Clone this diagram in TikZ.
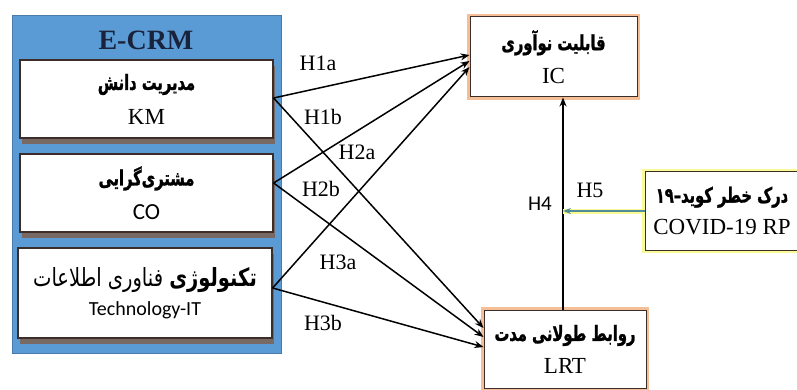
\documentclass[tikz,border=0pt]{standalone}
\usepackage{fontspec}
\setmainfont{Liberation Serif}
\newfontfamily\fa[Script=Arabic, FakeStretch=0.78]{DejaVu Sans}
\newfontfamily\fab[Script=Arabic, FakeStretch=0.70, FakeBold=1.2]{DejaVu Sans Bold}
\newfontfamily\calfont{Carlito}
\TeXXeTstate=1
\usetikzlibrary{arrows.meta,shadows}
\definecolor{ecrmblue}{RGB}{91,155,213}
\definecolor{navy}{RGB}{25,35,60}
\definecolor{shadowbrown}{RGB}{120,105,100}
\definecolor{boxline}{RGB}{60,45,40}
\definecolor{orangeglow}{RGB}{244,190,150}
\definecolor{yellowglow}{RGB}{250,250,150}
\definecolor{tealarrow}{RGB}{80,140,150}
\tikzset{
  crmbox/.style={draw=boxline, line width=1.2pt, fill=white, align=center,
    drop shadow={shadow xshift=2pt, shadow yshift=-6pt, fill=shadowbrown, opacity=1},
    inner sep=0pt},
  outbox/.style={draw=boxline, line width=1pt, fill=white, align=center, inner sep=0pt,
    preaction={draw=orangeglow, line width=6pt}},
  covbox/.style={draw=boxline, line width=1pt, fill=white, align=center, inner sep=0pt,
    preaction={draw=yellowglow, line width=6pt}},
  harrow/.style={-{Stealth[length=9pt,width=7pt]}, line width=1.5pt, black},
  hlabel/.style={font=\fontsize{22}{24}\selectfont, inner sep=1pt}
}
\newcommand{\fatitle}[1]{{\fab\fontsize{21}{24}\selectfont\beginR #1\endR}}
\newcommand{\entitle}[1]{{\fontsize{23}{26}\selectfont #1}}
\begin{document}
\begin{tikzpicture}[x=1pt,y=-1pt]
\useasboundingbox (0,0) rectangle (797,390);
% E-CRM container
\node[fill=ecrmblue, draw=ecrmblue!80!black, line width=0.6pt, minimum width=269pt, minimum height=338pt, inner sep=0pt] (ecrm) at (146.5,184) {};
\node[font=\fontsize{28}{30}\selectfont\bfseries, text=navy] (ecrmt) at (146,40) {E-CRM};
% left boxes
\node[crmbox, minimum width=253pt, minimum height=78pt] (KM) at (146.5,99)
  {\fatitle{مدیریت دانش}\\[13pt]\entitle{KM}};
\node[crmbox, minimum width=253pt, minimum height=78pt] (CO) at (146.5,193)
  {\fatitle{مشتری‌گرایی}\\[13pt]{\calfont\fontsize{23}{26}\selectfont CO}};
\node[crmbox, minimum width=254pt, minimum height=90pt] (IT) at (145,293)
  {{\fa\fontsize{25}{30}\selectfont\beginR{\bfseries تکنولوژی} فناوری اطلاعات\endR}\\[8pt]{\calfont\fontsize{20}{22}\selectfont Technology-IT}};
% right boxes
\node[outbox, minimum width=167pt, minimum height=80pt] (IC) at (553.5,57)
  {\fatitle{قابلیت نوآوری}\\[12pt]\entitle{IC}};
\node[outbox, minimum width=162pt, minimum height=78pt] (LRT) at (565,349)
  {\fatitle{روابط طولانی مدت}\\[11pt]\entitle{LRT}};
\node[covbox, minimum width=154pt, minimum height=78pt] (COV) at (722,211)
  {\fatitle{درک خطر کوید–\beginL ۱۹\endL}\\[11pt]\entitle{COVID-19 RP}};
% connectors
\draw[harrow] ([yshift=1pt]KM.east) -- ([yshift=2pt]IC.west);
\draw[harrow] ([yshift=10pt]CO.east) -- ([yshift=-4pt]IC.west);
\draw[harrow] ([yshift=5pt]IT.east) -- ([yshift=-10pt]IC.west);
\draw[harrow] ([yshift=1pt]KM.east) -- ([yshift=21pt]LRT.west);
\draw[harrow] ([yshift=10pt]CO.east) -- ([yshift=12pt]LRT.west);
\draw[harrow] ([yshift=5pt]IT.east) -- ([yshift=2pt]LRT.west);
\coordinate (vx) at (563,0);
\draw[harrow] (LRT.north -| vx) -- (IC.south -| vx);
\draw[-{Stealth[length=8pt,width=6pt]}, line width=1.4pt, tealarrow,
  preaction={draw=yellowglow, line width=5pt, -}] (COV.west) -- (vx |- COV.west);
% labels
\node[hlabel] (h1a) at (318,63) {H1a};
\node[hlabel] (h1b) at (323,117) {H1b};
\node[hlabel] (h2a) at (357,152) {H2a};
\node[hlabel] (h2b) at (321,189) {H2b};
\node[hlabel] (h3a) at (338,262) {H3a};
\node[hlabel] (h3b) at (323,323) {H3b};
\node[hlabel, font=\calfont\fontsize{21}{24}\selectfont] (h4) at (540,204) {H4};
\node[hlabel] (h5) at (590,190) {H5};
\end{tikzpicture}
\end{document}
